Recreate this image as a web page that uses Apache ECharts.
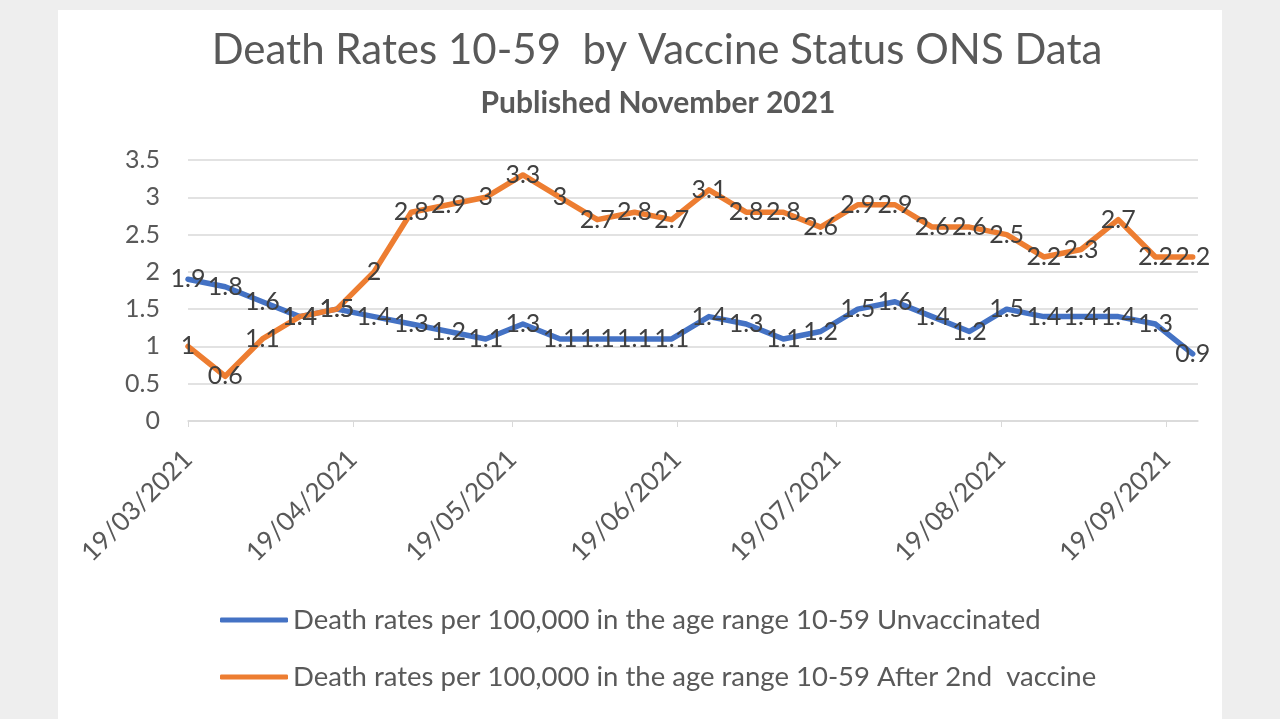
<!DOCTYPE html>
<html>
<head>
<meta charset="utf-8">
<title>Death Rates 10-59 by Vaccine Status</title>
<script src="https://cdn.jsdelivr.net/npm/echarts@6/dist/echarts.min.js"></script>
<style>
  html, body { margin: 0; padding: 0; background: #eeeeee; }
  #card { position: absolute; left: 58px; top: 10px; width: 1164px; height: 709px; background: #ffffff; }
  #main { position: absolute; left: 0; top: 0; width: 1280px; height: 719px; }
</style>
</head>
<body>
<div id="card"></div>
<div id="main"></div>
<script>
// weekly data points (dd/mm/yyyy in the picture)
var weekDates = [
  '2021-03-19', '2021-03-26', '2021-04-02', '2021-04-09', '2021-04-16', '2021-04-23', '2021-04-30',
  '2021-05-07', '2021-05-14', '2021-05-21', '2021-05-28', '2021-06-04', '2021-06-11', '2021-06-18',
  '2021-06-25', '2021-07-02', '2021-07-09', '2021-07-16', '2021-07-23', '2021-07-30', '2021-08-06',
  '2021-08-13', '2021-08-20', '2021-08-27', '2021-09-03', '2021-09-10', '2021-09-17', '2021-09-24'
];
var unvaccinated = [1.9, 1.8, 1.6, 1.4, 1.5, 1.4, 1.3, 1.2, 1.1, 1.3, 1.1, 1.1, 1.1, 1.1,
                    1.4, 1.3, 1.1, 1.2, 1.5, 1.6, 1.4, 1.2, 1.5, 1.4, 1.4, 1.4, 1.3, 0.9];
var afterSecond = [1, 0.6, 1.1, 1.4, 1.5, 2, 2.8, 2.9, 3, 3.3, 3, 2.7, 2.8, 2.7,
                   3.1, 2.8, 2.8, 2.6, 2.9, 2.9, 2.6, 2.6, 2.5, 2.2, 2.3, 2.7, 2.2, 2.2];
var tickDates = ['2021-03-19', '2021-04-19', '2021-05-19', '2021-06-19', '2021-07-19', '2021-08-19', '2021-09-19'];
var axisStart = '2021-03-19';
var axisEnd = '2021-09-25';
var seriesNames = [
  'Death rates per 100,000 in the age range 10-59 Unvaccinated',
  'Death rates per 100,000 in the age range 10-59 After 2nd  vaccine'
];

function ts(s) {
  var p = s.split('-');
  return Date.UTC(+p[0], +p[1] - 1, +p[2]);
}
function fmtDate(v) {
  var d = new Date(v);
  var dd = ('0' + d.getUTCDate()).slice(-2);
  var mm = ('0' + (d.getUTCMonth() + 1)).slice(-2);
  return dd + '/' + mm + '/' + d.getUTCFullYear();
}
function pairs(vals) {
  return vals.map(function (v, i) { return [ts(weekDates[i]), v]; });
}

var font = 'Lato, "Open Sans", sans-serif';
var grey = '#595959';

var myChart = echarts.init(document.getElementById('main'));
var ticks = tickDates.map(ts);

var option = {
  backgroundColor: 'transparent',
  animation: false,
  textStyle: { fontFamily: font },
  title: [{
    text: 'Death Rates 10-59  by Vaccine Status ONS Data',
    left: 652, top: 24, textAlign: 'center',
    textStyle: { fontSize: 42, fontWeight: 'normal', color: grey, fontFamily: font }
  }, {
    text: 'Published November 2021',
    left: 653, top: 83, textAlign: 'center',
    textStyle: { fontSize: 30, fontWeight: 'bold', color: grey, fontFamily: font }
  }],
  legend: {
    orient: 'vertical',
    left: 220, top: 604,
    padding: 0,
    itemWidth: 68, itemHeight: 5,
    itemGap: 25,
    icon: 'roundRect',
    textStyle: { fontSize: 27.5, color: grey, fontFamily: font, lineHeight: 32 },
    data: seriesNames
  },
  grid: { left: 188, right: 82, top: 160, bottom: 298 },
  xAxis: {
    type: 'value',
    min: ts(axisStart),
    max: ts(axisEnd),
    splitLine: { show: false },
    axisLine: { show: true, lineStyle: { color: '#d9d9d9', width: 1.5 } },
    axisTick: { show: true, customValues: ticks, length: 6, lineStyle: { color: '#d9d9d9' } },
    axisLabel: {
      customValues: ticks,
      rotate: 45,
      margin: 34,
      fontSize: 26,
      color: grey,
      fontFamily: font,
      formatter: fmtDate
    }
  },
  yAxis: {
    type: 'value',
    min: 0, max: 3.5, interval: 0.5,
    axisLine: { show: false },
    axisTick: { show: false },
    axisLabel: { fontSize: 25, color: grey, margin: 28, fontFamily: font },
    splitLine: { lineStyle: { color: '#d9d9d9', width: 1.5 } }
  },
  series: [{
    name: seriesNames[0],
    type: 'line',
    data: pairs(unvaccinated),
    symbol: 'circle', symbolSize: 2,
    lineStyle: { color: '#4472c4', width: 5.5, join: 'round', cap: 'round' },
    itemStyle: { color: '#4472c4' },
    label: { show: true, position: 'inside', fontSize: 25, color: '#404040', fontFamily: font }
  }, {
    name: seriesNames[1],
    type: 'line',
    data: pairs(afterSecond),
    symbol: 'circle', symbolSize: 2,
    lineStyle: { color: '#ed7d31', width: 5.5, join: 'round', cap: 'round' },
    itemStyle: { color: '#ed7d31' },
    label: { show: true, position: 'inside', fontSize: 25, color: '#404040', fontFamily: font }
  }]
};
option.series.forEach(function (s) {
  s.label.formatter = function (p) { return p.value[1]; };
});

myChart.setOption(option);
</script>
</body>
</html>
